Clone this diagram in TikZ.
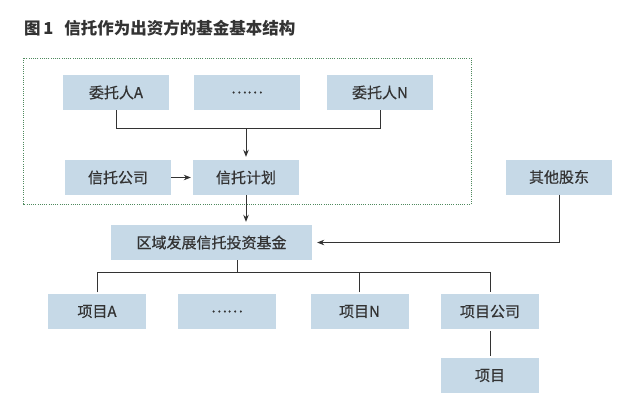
\documentclass[tikz,border=0pt]{standalone}
\usepackage{fontspec}
\setmainfont{Noto Sans CJK SC}
\newfontfamily\boxfont[FakeBold=0.5]{Noto Sans CJK SC}
\usetikzlibrary{arrows.meta}
\definecolor{boxfill}{HTML}{C6D9E7}
\definecolor{txt}{HTML}{333333}
\definecolor{framecol}{HTML}{4F8A5E}
\begin{document}
\begin{tikzpicture}[x=1pt,y=-1pt,
  box/.style={fill=boxfill, minimum width=106pt, minimum height=35pt, inner sep=0pt, text=txt, font=\boxfont\fontsize{15}{17}\selectfont},
  pbox/.style={box, minimum width=98pt},
  conn/.style={draw=txt, line width=0.9pt},
  arr/.style={conn, -{Stealth[length=7pt,width=5.5pt]}}]
\useasboundingbox (0,0) rectangle (634,418);
% title
\node[anchor=west, text=txt, inner sep=0pt, font=\fontsize{16.5}{18}\selectfont\bfseries] (title) at (24,28) {图\,1\enspace\thinspace 信托作为出资方的基金基本结构};
% frame
\draw[framecol, line width=0.9pt, dash pattern=on 1pt off 1.2pt] (23,58) rectangle (471,204);
% trustors
\node[box] (wA) at (116,92.5) {委托人A};
\node[box] (wD) at (247,92.5) {……};
\node[box] (wN) at (380,92.5) {委托人N};
\node[box] (tc) at (118,177.5) {信托公司};
\node[box] (plan) at (246,177.5) {信托计划};
\node[box] (os) at (559,177) {其他股东};
\node[box, minimum width=201pt] (fund) at (211.5,242.5) {区域发展信托投资基金};
% projects
\node[pbox] (pA) at (97,311.5) {项目A};
\node[pbox] (pD) at (227,311.5) {……};
\node[pbox] (pN) at (359.5,311.5) {项目N};
\node[pbox] (pC) at (490,311.5) {项目公司};
\node[pbox] (pP) at (490,375.5) {项目};
% connectors
\coordinate (j) at (246,128);
\draw[conn] (wA.south) -- (wA.south |- j) -- (wN.south |- j) -- (wN.south);
\draw[arr, shorten >=3pt] (j) -- (plan.north);
\draw[arr, shorten >=2pt] (tc.east) -- (plan.west);
\draw[arr, shorten >=3pt] (plan.south) -- (plan.south |- fund.north);
\draw[arr, shorten >=5pt] (os.south) |- (fund.east);
\coordinate (bus) at (237,272);
\draw[conn] (fund.south -| bus) -- (bus);
\draw[conn, shorten <=1.5pt, shorten >=1.5pt] (pA.north) -- (pA.north |- bus) -- (pC.north |- bus) -- (pC.north);
\draw[conn, shorten <=1.5pt] (pN.north) -- (pN.north |- bus);
\draw[conn, shorten <=2pt, shorten >=2pt] (pC.south) -- (pP.north);
\end{tikzpicture}
\end{document}
